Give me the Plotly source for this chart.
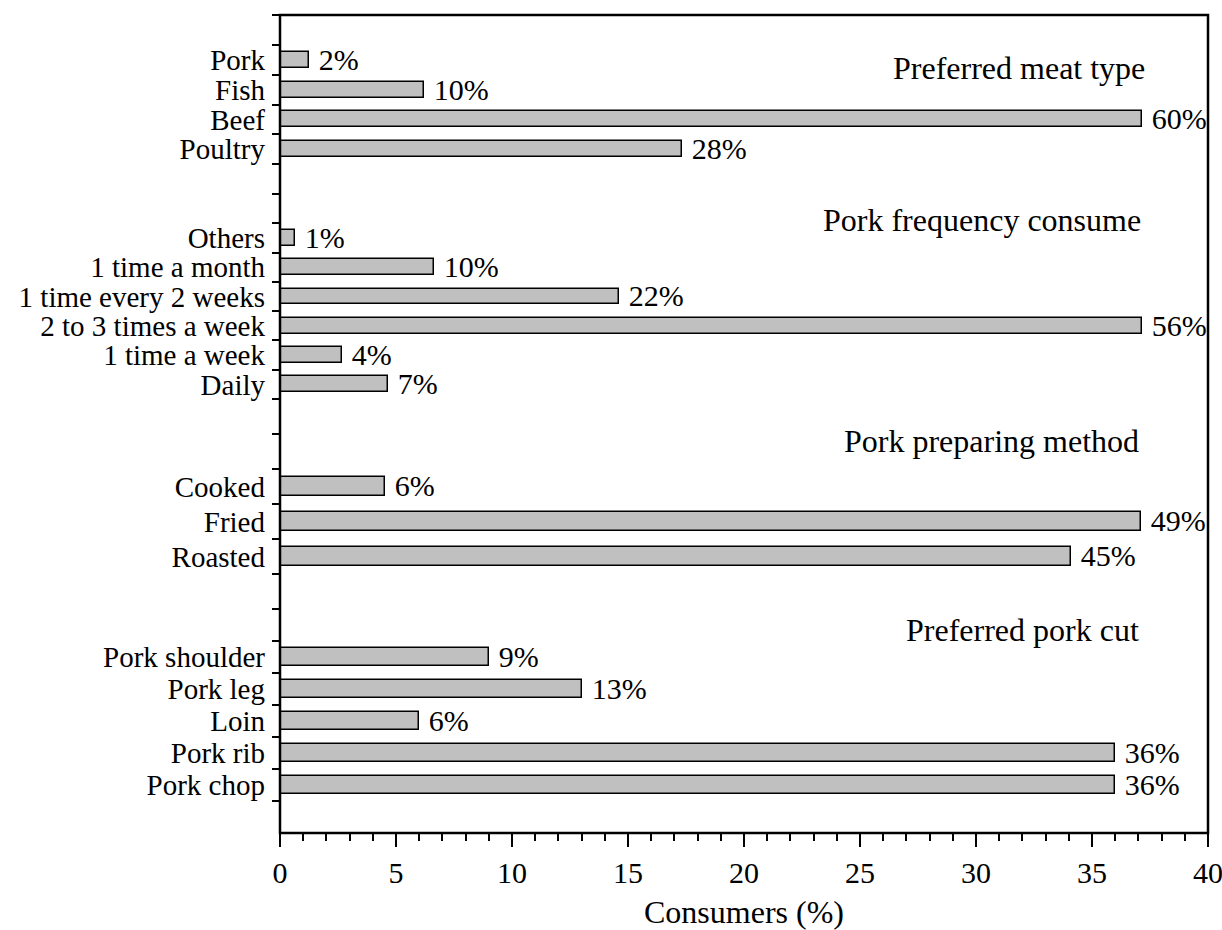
import plotly.graph_objects as go
from plotly.subplots import make_subplots

# Survey results, one panel per question (top to bottom)
meat_type = ["Pork", "Fish", "Beef", "Poultry"]
meat_type_pct = [2, 10, 60, 28]

frequency = ["Others", "1 time a month", "1 time every 2 weeks",
             "2 to 3 times a week", "1 time a week", "Daily"]
frequency_pct = [1, 10, 22, 56, 4, 7]

preparing = ["Cooked", "Fried", "Roasted"]
preparing_pct = [6, 49, 45]

pork_cut = ["Pork shoulder", "Pork leg", "Loin", "Pork rib", "Pork chop"]
pork_cut_pct = [9, 13, 6, 36, 36]

x_ticks = [0, 5, 10, 15, 20, 25, 30, 35, 40]

FONT = "Liberation Serif"
BAR_FILL = "#c0c0c0"

# panel: (title, categories, values, blank slots above, blank slots below, x max)
panels = [
    ("Preferred meat type", meat_type, meat_type_pct, 1, 1, 64.6),
    ("Pork frequency consume", frequency, frequency_pct, 1, 0, 60.3),
    ("Pork preparing method", preparing, preparing_pct, 2, 1, 52.8),
    ("Preferred pork cut", pork_cut, pork_cut_pct, 1, 1, 40.0),
]
title_pos = [(0.934, 0.704), (0.930, 0.873), (0.928, 0.800), (0.928, 0.906)]

fig = make_subplots(rows=4, cols=1, row_heights=[179, 205, 210, 224],
                    vertical_spacing=0)

blank_id = 0
for i, (title, cats, vals, above, below, xmax) in enumerate(panels, start=1):
    slots_above = []
    for _ in range(above):
        blank_id += 1
        slots_above.append(" " * blank_id)
    slots_below = []
    for _ in range(below):
        blank_id += 1
        slots_below.append(" " * blank_id)
    order = slots_above + cats + slots_below
    n = len(order)

    fig.add_trace(go.Bar(
        x=vals, y=cats, orientation="h", width=0.54,
        marker=dict(color=BAR_FILL, line=dict(color="black", width=1.5)),
        text=[f" {v}%" for v in vals], textposition="outside",
        textfont=dict(family=FONT, size=30, color="black"),
        cliponaxis=False, constraintext="none", showlegend=False,
    ), row=i, col=1)

    fig.update_yaxes(
        type="category", categoryorder="array", categoryarray=order,
        range=[n - 0.5, -0.5], tickson="boundaries",
        tickmode="linear", tick0=0, dtick=1,
        ticks="outside", ticklen=7, tickwidth=2, tickcolor="black",
        ticklabelstandoff=14, automargin=False,
        showline=False, showgrid=False, zeroline=False,
        tickfont=dict(family=FONT, size=29, color="black"),
        row=i, col=1,
    )

    last = i == 4
    fig.update_xaxes(
        range=[0, xmax], visible=last, showgrid=False, zeroline=False,
        automargin=False, row=i, col=1,
    )

    xr = "x domain" if i == 1 else f"x{i} domain"
    yr = "y domain" if i == 1 else f"y{i} domain"
    tx, ty = title_pos[i - 1]
    fig.add_annotation(text=title, xref=xr, yref=yr, x=tx, y=ty,
                       xanchor="right", yanchor="middle", showarrow=False,
                       font=dict(family=FONT, size=32, color="black"))

fig.update_xaxes(
    tickmode="array", tickvals=x_ticks, ticks="outside", ticklen=13,
    tickwidth=2, tickcolor="black", showline=False,
    ticklabeloverflow="allow",
    minor=dict(dtick=1, ticks="outside", ticklen=7, tickwidth=2,
               tickcolor="black"),
    tickfont=dict(family=FONT, size=30, color="black"),
    title=dict(text="Consumers (%)", standoff=12,
               font=dict(family=FONT, size=32, color="black")),
    row=4, col=1,
)

# frame around the whole plotting area
fig.add_shape(type="rect", xref="paper", yref="paper", x0=0, x1=1, y0=0, y1=1,
              line=dict(color="black", width=2.5), layer="above")

fig.update_layout(
    width=1222, height=930,
    margin=dict(l=280, r=14, t=15, b=97),
    paper_bgcolor="white", plot_bgcolor="white",
    bargap=0,
)

fig.write_html("out.html")
